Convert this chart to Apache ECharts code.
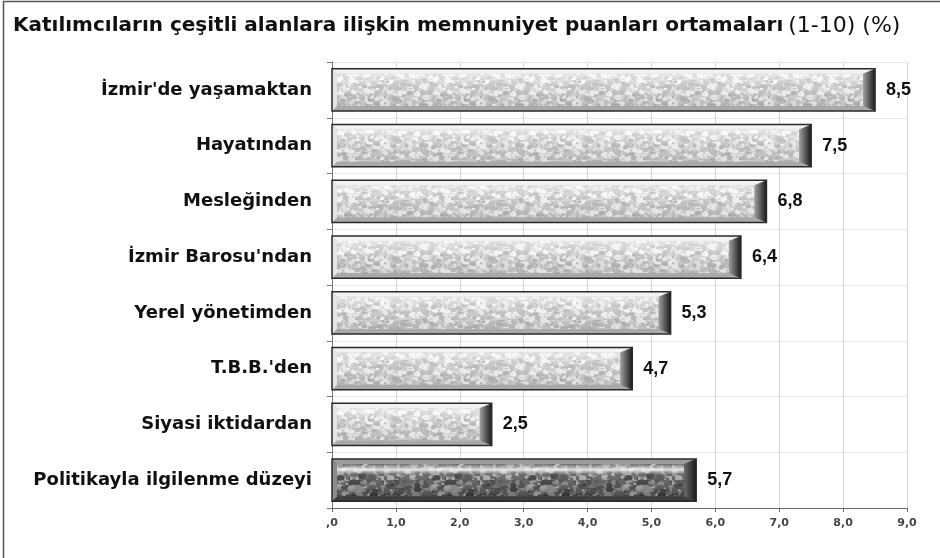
<!DOCTYPE html>
<html>
<head>
<meta charset="utf-8">
<script src="https://cdn.jsdelivr.net/npm/echarts@6/dist/echarts.min.js"></script>
<style>
  html, body { margin: 0; padding: 0; background: #ffffff; }
  #chart { width: 940px; height: 558px; }
</style>
</head>
<body>
<div id="chart"></div>
<script>
// Satisfaction areas (top to bottom) and their mean scores on a 1-10 scale
const categories = [
  "İzmir'de yaşamaktan",
  "Hayatından",
  "Mesleğinden",
  "İzmir Barosu'ndan",
  "Yerel yönetimden",
  "T.B.B.'den",
  "Siyasi iktidardan",
  "Politikayla ilgilenme düzeyi"
];
const scores = [8.5, 7.5, 6.8, 6.4, 5.3, 4.7, 2.5, 5.7];
// The last row is drawn with the dark stone finish
const darkRows = [false, false, false, false, false, false, false, true];
const xTicks = [0, 1, 2, 3, 4, 5, 6, 7, 8, 9];

const fmt = v => (v === 0 ? ',0' : v.toFixed(1).replace('.', ','));

// Speckled stone texture painted into a small repeating tile
function stoneTile(dark) {
  const c = document.createElement('canvas');
  c.width = 96; c.height = 40;
  const ctx = c.getContext('2d');
  let seed = dark ? 7919 : 104729;
  const next = () => { seed = (seed * 16807) % 2147483647; return seed / 2147483647; };
  ctx.fillStyle = dark ? '#727272' : '#d6d6d6';
  ctx.fillRect(0, 0, c.width, c.height);
  const tones = dark
    ? ['#3c3c3c', '#4e4e4e', '#8a8a8a', '#a6a6a6', '#5d5d5d']
    : ['#c2c2c2', '#cbcbcb', '#ececec', '#f4f4f4', '#b8b8b8'];
  for (let i = 0; i < 520; i++) {
    ctx.fillStyle = tones[Math.floor(next() * tones.length)];
    const x = next() * c.width, y = next() * c.height;
    const r = 0.8 + next() * (dark ? 2.2 : 1.8);
    ctx.beginPath();
    ctx.ellipse(x, y, r * 1.4, r, 0, 0, Math.PI * 2);
    ctx.fill();
  }
  return c;
}
const lightTile = stoneTile(false);
const darkTile = stoneTile(true);

function bevelBar(params, api) {
  const idx = api.value(0);
  const val = api.value(1);
  const dark = darkRows[idx];
  const start = api.coord([0, idx]);
  const end = api.coord([val, idx]);
  const band = api.size([0, 1])[1];
  const h = band * 0.76;
  const x0 = start[0], x1 = end[0];
  const t = start[1] - h / 2, b = t + h;
  const w = x1 - x0;
  const bt = 5, br = 12, bl = 5;

  const face = { image: dark ? darkTile : lightTile, repeat: 'repeat' };
  const children = [
    { type: 'rect', shape: { x: x0, y: t, width: w, height: h },
      style: { fill: dark ? '#5a5a5a' : '#b8b8b8' } },
    // textured face
    { type: 'rect', shape: { x: x0 + bl, y: t + bt, width: w - bl - br, height: h - 2 * bt },
      style: { fill: face } },
    // soft shading over the face
    { type: 'rect', shape: { x: x0 + bl, y: t + bt, width: w - bl - br, height: h - 2 * bt },
      style: { fill: new echarts.graphic.LinearGradient(0, 0, 0, 1, dark ? [
        { offset: 0, color: 'rgba(255,255,255,0.15)' },
        { offset: 0.18, color: 'rgba(255,255,255,0.85)' },
        { offset: 0.32, color: 'rgba(255,255,255,0.1)' },
        { offset: 1, color: 'rgba(0,0,0,0.15)' }
      ] : [
        { offset: 0, color: 'rgba(255,255,255,0.55)' },
        { offset: 0.35, color: 'rgba(255,255,255,0.1)' },
        { offset: 1, color: 'rgba(0,0,0,0.08)' }
      ]) } },
    // top bevel
    { type: 'polygon', shape: { points: [[x0, t], [x1, t], [x1 - br, t + bt], [x0 + bl, t + bt]] },
      style: { fill: dark ? '#9c9c9c' : '#f2f2f2' } },
    // bottom bevel
    { type: 'polygon', shape: { points: [[x0, b], [x1, b], [x1 - br, b - bt], [x0 + bl, b - bt]] },
      style: { fill: dark ? '#3e3e3e' : '#a9a9a9' } },
    // left bevel
    { type: 'polygon', shape: { points: [[x0, t], [x0 + bl, t + bt], [x0 + bl, b - bt], [x0, b]] },
      style: { fill: dark ? '#8a8a8a' : '#e4e4e4' } },
    // right bevel
    { type: 'polygon', shape: { points: [[x1, t], [x1 - br, t + bt], [x1 - br, b - bt], [x1, b]] },
      style: { fill: new echarts.graphic.LinearGradient(0, 0, 1, 0, [
        { offset: 0, color: dark ? '#6a6a6a' : '#a0a0a0' },
        { offset: 1, color: '#1a1a1a' }
      ]) } },
    // outline
    { type: 'rect', shape: { x: x0, y: t, width: w, height: h },
      style: { fill: 'none', stroke: '#2a2a2a', lineWidth: 1.5 } },
    // value label
    { type: 'text', x: x1 + 11, y: start[1],
      style: { text: fmt(val), fill: '#111', fontFamily: 'Liberation Sans', fontWeight: 'bold', fontSize: 18,
        verticalAlign: 'middle', align: 'left' } }
  ];
  return { type: 'group', children };
}

const chart = echarts.init(document.getElementById('chart'), null, { renderer: 'canvas' });
chart.setOption({
  animation: false,
  backgroundColor: '#ffffff',
  title: {
    left: 8, top: 10,
    text: '{b|Katılımcıların çeşitli alanlara ilişkin memnuniyet puanları ortamaları} {n|(1-10) (%)}',
    textStyle: {
      rich: {
        b: { fontFamily: '"DejaVu Sans", sans-serif', fontWeight: 'bold', fontSize: 20, color: '#111' },
        n: { fontFamily: '"DejaVu Sans", sans-serif', fontWeight: 'normal', fontSize: 22, color: '#111' }
      }
    }
  },
  graphic: [
    { type: 'rect', shape: { x: 3.5, y: 1.5, width: 1200, height: 1200 },
      style: { fill: 'none', stroke: '#555', lineWidth: 1.5 }, silent: true }
  ],
  grid: { left: 332, right: 33, top: 62, bottom: 50, containLabel: false },
  xAxis: {
    type: 'value', min: 0, max: 9, interval: 1,
    axisLine: { show: true, lineStyle: { color: '#666', width: 1.2 } },
    axisTick: { show: true, length: 4, inside: false, lineStyle: { color: '#666' } },
    axisLabel: {
      margin: 10, color: '#444', fontSize: 11, fontWeight: 'bold',
      fontFamily: '"DejaVu Sans", Verdana, sans-serif',
      formatter: v => fmt(v),
      customValues: xTicks
    },
    splitLine: { show: true, lineStyle: { color: '#d6d6d6', width: 1 } }
  },
  yAxis: {
    type: 'category', data: categories, inverse: true,
    axisLine: { show: true, lineStyle: { color: '#777', width: 1 } },
    axisTick: { show: true, length: 5, lineStyle: { color: '#777' } },
    axisLabel: {
      margin: 20, color: '#111', fontSize: 18, fontWeight: 'bold',
      fontFamily: '"DejaVu Sans", Verdana, sans-serif'
    },
    splitLine: { show: true, lineStyle: { color: '#e8e8e8', width: 1 } }
  },
  series: [{
    type: 'custom',
    renderItem: bevelBar,
    encode: { x: 1, y: 0 },
    data: scores.map((v, i) => [i, v]),
    clip: false
  }]
});
</script>
</body>
</html>
